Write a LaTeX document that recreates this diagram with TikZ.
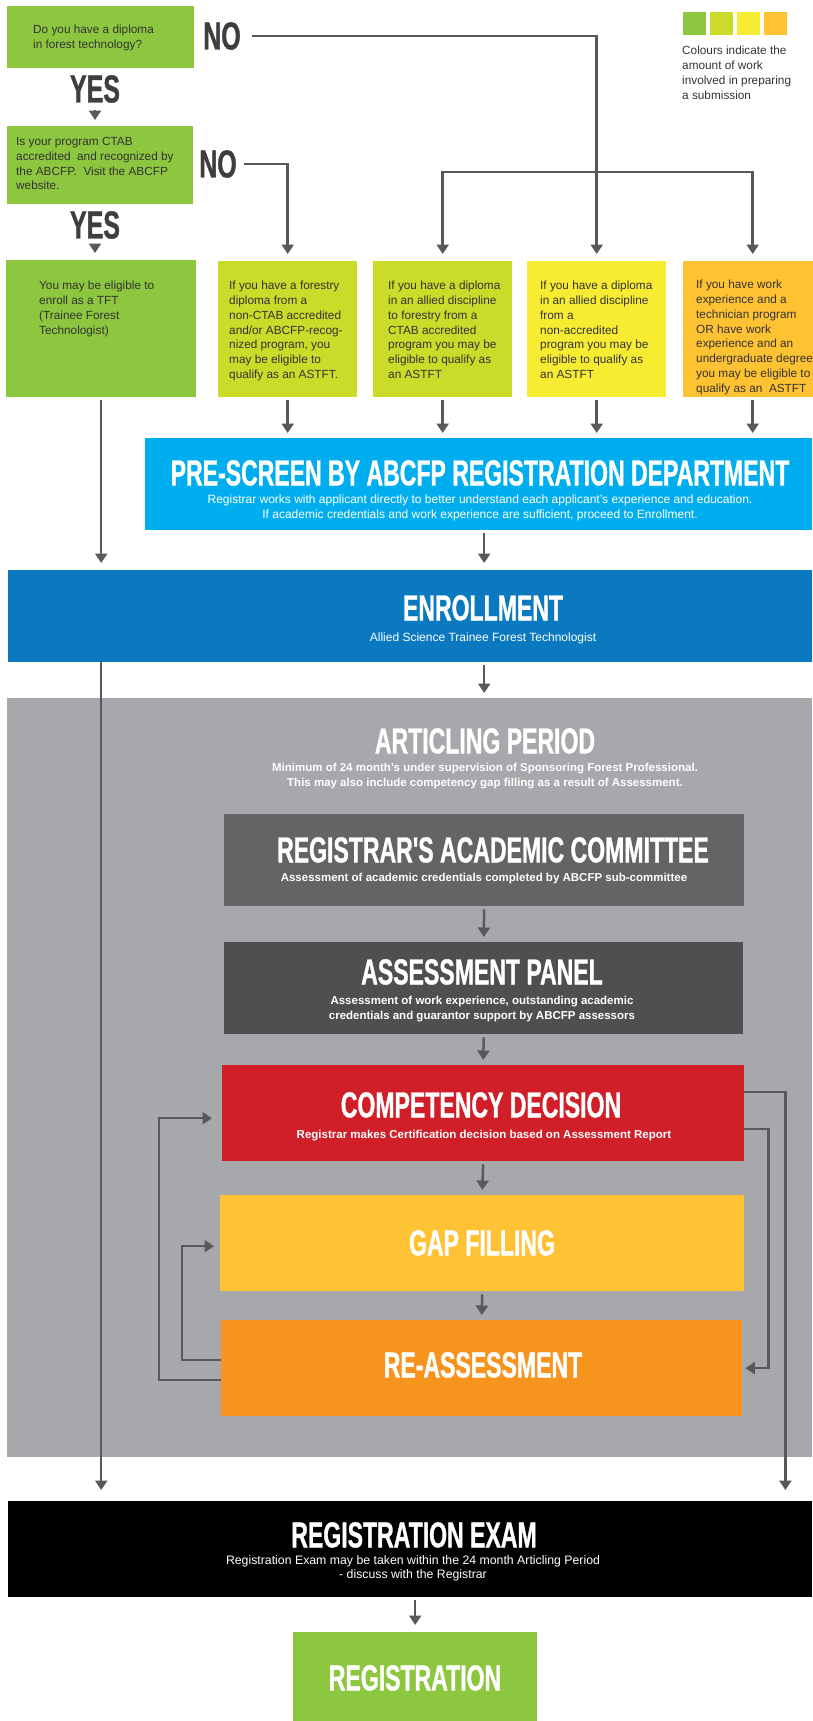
\documentclass[tikz,border=0pt]{standalone}
\usepackage{fontspec}
\setmainfont{Liberation Sans}
\newfontfamily\headfont{Liberation Sans}[FakeStretch=0.64, FakeBold=0.9]
\usepackage{tikz}
\usetikzlibrary{arrows.meta, positioning, calc}
\definecolor{cGreen}{HTML}{8DC63F}
\definecolor{cLime}{HTML}{CBDB2A}
\definecolor{cYellow}{HTML}{F8EC33}
\definecolor{cAmber}{HTML}{FFC233}
\definecolor{cCyan}{HTML}{00AEEF}
\definecolor{cBlue}{HTML}{0A79BF}
\definecolor{cPeriod}{HTML}{A7A8AB}
\definecolor{cCommittee}{HTML}{636466}
\definecolor{cPanel}{HTML}{4F4F51}
\definecolor{cRed}{HTML}{D01F28}
\definecolor{cGap}{HTML}{FFC235}
\definecolor{cOrange}{HTML}{F7941E}
\definecolor{cLine}{HTML}{58595B}
\definecolor{cInk}{HTML}{333333}
\definecolor{cAnswer}{HTML}{3E3E40}
\tikzset{%
	box/.style={anchor=north west, inner sep=0pt, fill=#1},
	swatch/.style={box=#1, minimum width=23pt, minimum height=23pt},
	card/.style={box=#1, minimum width=139pt, minimum height=136pt},
	blurb/.style={anchor=north west, inner sep=0pt, text=cInk, align=left,%
		font=\fontsize{11.8}{14.8}\selectfont},
	head/.style={anchor=north, inner sep=0pt, text=white,%
		font=\headfont\bfseries\fontsize{36}{36}\selectfont},
	answer/.style={anchor=north, inner sep=0pt, text=cAnswer,%
		font=\headfont\bfseries\fontsize{39}{39}\selectfont},
	note/.style={anchor=north, inner sep=0pt, text=white, align=center,%
		font=\fontsize{12}{15}\selectfont},
	boldnote/.style={note, font=\bfseries\fontsize{11.5}{15}\selectfont},
	sel/.style={-{Triangle[width=12pt,length=9.5pt]}, line width=2.5pt, draw=cLine,%
		shorten <=3pt, shorten >=5pt},
	tip/.style={sel, shorten <=7pt, shorten >=6pt}
}
\begin{document}
\begin{tikzpicture}[x=1pt, y=-1pt]
	\useasboundingbox (0,0) rectangle (812,1721);

	\foreach \c [count=\i] in {cGreen,cLime,cYellow,cAmber}
		\node[swatch=\c] (sw\i) at ({683+27*(\i-1)},12) {};
	\node[blurb] (legend) at (682,46) {Colours indicate the\\amount of work\\involved in preparing\\a submission};

	\node[box=cGreen, minimum width=187pt, minimum height=62pt] (q1) at (7,6) {};
	\node[blurb] (q1txt) at (33,25) {Do you have a diploma\\in forest technology?};
	\node[answer] (no1) at (222,22) {NO};
	\node[answer] (yes1) at (95,75) {YES};
	\node[box=cGreen, minimum width=186pt, minimum height=78pt] (q2) at (7,126) {};
	\node[blurb] (q2txt) at (16,137) {Is your program CTAB\\accredited\ \ and recognized by\\the ABCFP.\ \ Visit the ABCFP\\website.};
	\node[answer] (no2) at (218,150) {NO};
	\node[answer] (yes2) at (95,211) {YES};

	\node[box=cGreen, minimum width=190pt, minimum height=137pt] (tft) at (6,260) {};
	\node[card=cLime] (nonctab) at (218,261) {};
	\node[card=cLime] (alliedctab) at (373,261) {};
	\node[card=cYellow] (alliednon) at (527,261) {};
	\node[card=cAmber] (work) at (683,261) {};
	\node[blurb] (tfttxt) at (39,281) {You may be eligible to\\enroll as a TFT\\(Trainee Forest\\Technologist)};
	\node[blurb] (nonctabtxt) at (229,281) {If you have a forestry\\diploma from a\\non-CTAB accredited\\and/or ABCFP-recog-\\nized program, you\\may be eligible to\\qualify as an ASTFT.};
	\node[blurb] (alliedctabtxt) at (388,281) {If you have a diploma\\in an allied discipline\\to forestry from a\\CTAB accredited\\program you may be\\eligible to qualify as\\an ASTFT};
	\node[blurb] (alliednontxt) at (540,281) {If you have a diploma\\in an allied discipline\\from a\\non-accredited\\program you may be\\eligible to qualify as\\an ASTFT};
	\node[blurb] (worktxt) at (696,280) {If you have work\\experience and a\\technician program\\OR have work\\experience and an\\undergraduate degree\\you may be eligible to\\qualify as an\ \ ASTFT};

	\node[box=cCyan, minimum width=667pt, minimum height=92pt] (prescreen) at (145,438) {};
	\node[head] (prescreenhd) at (480,460) {PRE-SCREEN BY ABCFP REGISTRATION DEPARTMENT};
	\node[note] (prescreennt) at (480,495) {Registrar works with applicant directly to better understand each applicant's experience and education.\\If academic credentials and work experience are sufficient, proceed to Enrollment.};
	\node[box=cBlue, minimum width=804pt, minimum height=92pt] (enroll) at (8,570) {};
	\node[head] (enrollhd) at (483,595) {ENROLLMENT};
	\node[note] (enrollnt) at (483,633) {Allied Science Trainee Forest Technologist};

	\node[box=cPeriod, minimum width=805pt, minimum height=759pt] (period) at (7,698) {};
	\node[head] (periodhd) at (485,728) {ARTICLING PERIOD};
	\node[boldnote] (periodnt) at (485,763) {Minimum of 24 month's under supervision of Sponsoring Forest Professional.\\This may also include competency gap filling as a result of Assessment.};
	\node[box=cCommittee, minimum width=520pt, minimum height=92pt] (committee) at (224,814) {};
	\node[head] (committeehd) at (493,837) {REGISTRAR'S ACADEMIC COMMITTEE};
	\node[boldnote] (committeent) at (484,873) {Assessment of academic credentials completed by ABCFP sub-committee};
	\node[box=cPanel, minimum width=519pt, minimum height=92pt] (panel) at (224,942) {};
	\node[head] (panelhd) at (482,959) {ASSESSMENT PANEL};
	\node[boldnote] (panelnt) at (482,996) {Assessment of work experience, outstanding academic\\credentials and guarantor support by ABCFP assessors};
	\node[box=cRed, minimum width=522pt, minimum height=96pt] (competency) at (222,1065) {};
	\node[head] (competencyhd) at (481,1092) {COMPETENCY DECISION};
	\node[boldnote] (competencynt) at (484,1130) {Registrar makes Certification decision based on Assessment Report};
	\node[box=cGap, minimum width=524pt, minimum height=96pt] (gap) at (220,1195) {};
	\node[head] (gaphd) at (482,1230) {GAP FILLING};
	\node[box=cOrange, minimum width=521pt, minimum height=96pt] (reassess) at (221,1320) {};
	\node[head] (reassesshd) at (483,1352) {RE-ASSESSMENT};

	\node[box=black, minimum width=804pt, minimum height=96pt] (exam) at (8,1501) {};
	\node[head] (examhd) at (414,1522) {REGISTRATION EXAM};
	\node[note, font=\fontsize{12.3}{14}\selectfont] (examnt) at (413,1555) {Registration Exam may be taken within the 24 month Articling Period\\- discuss with the Registrar};
	\node[box=cGreen, minimum width=244pt, minimum height=95pt] (reg) at (293,1632) {};
	\node[head] (reghd) at (415,1665) {REGISTRATION};

	% decisions
	\draw[sel, shorten <=11pt, shorten >=7pt] (no1.east) -| (alliednon.north);
	\coordinate (fork) at (alliednon.north |- 0,172);
	\draw[sel, shorten <=0pt, shorten >=7pt] (fork) -| (alliedctab.north);
	\draw[sel, shorten <=0pt, shorten >=7pt] (fork) -| (work.north);
	\draw[sel, shorten <=7pt, shorten >=7pt] (no2.east) -| (nonctab.north);
	\draw[tip] (yes1.south) -- (yes1.south |- q2.north);
	\draw[tip, shorten <=6pt, shorten >=7pt] (yes2.south) -- (yes2.south |- tft.north);

	% stages
	\foreach \b in {nonctab,alliedctab,alliednon,work}
		\draw[sel] (\b.south) -- (\b.south |- prescreen.north);
	\draw[sel, shorten >=7pt] (tft.south) -- (tft.south |- enroll.north);
	\draw[sel, shorten >=7pt] (prescreen.south -| committee.north) -- (enroll.north -| committee.north);
	\draw[sel] (enroll.south -| committee.north) -- (period.north -| committee.north);
	\draw[sel] (committee.south) -- (panel.north);
	\draw[sel] (panel.south) -- (competency.north);
	\draw[sel] (competency.south) -- (gap.north);
	\draw[sel] (gap.south) -- (reassess.north);
	\draw[sel, shorten <=0pt, shorten >=11pt] (enroll.south -| tft.south) -- (exam.north -| tft.south);

	% loops round the decision
	\coordinate (rail) at ([xshift=41pt, yshift=21pt]competency.east);
	\coordinate (railin) at ([xshift=24pt, yshift=-16pt]competency.east);
	\coordinate (loop) at ([xshift=-62pt, yshift=-12pt]reassess.west);
	\coordinate (loopin) at ([xshift=-39pt, yshift=8pt]reassess.west);
	\draw[sel, shorten <=0pt, shorten >=11pt] (competency.east |- rail) -- (rail) -- (rail |- exam.north);
	\draw[sel, shorten <=0pt, shorten >=3pt] (competency.east |- railin) -- (railin) |- (reassess.east);
	\draw[sel, shorten <=0pt, shorten >=10pt] (reassess.west |- loop) -- (loop) |- ([yshift=-5pt]competency.west);
	\draw[sel, shorten <=0pt, shorten >=6pt] (reassess.west |- loopin) -- (loopin) |- ([yshift=-3pt]gap.west);

	\draw[sel, shorten >=7pt] (exam.south -| reg.north) -- (reg.north);
\end{tikzpicture}
\end{document}
